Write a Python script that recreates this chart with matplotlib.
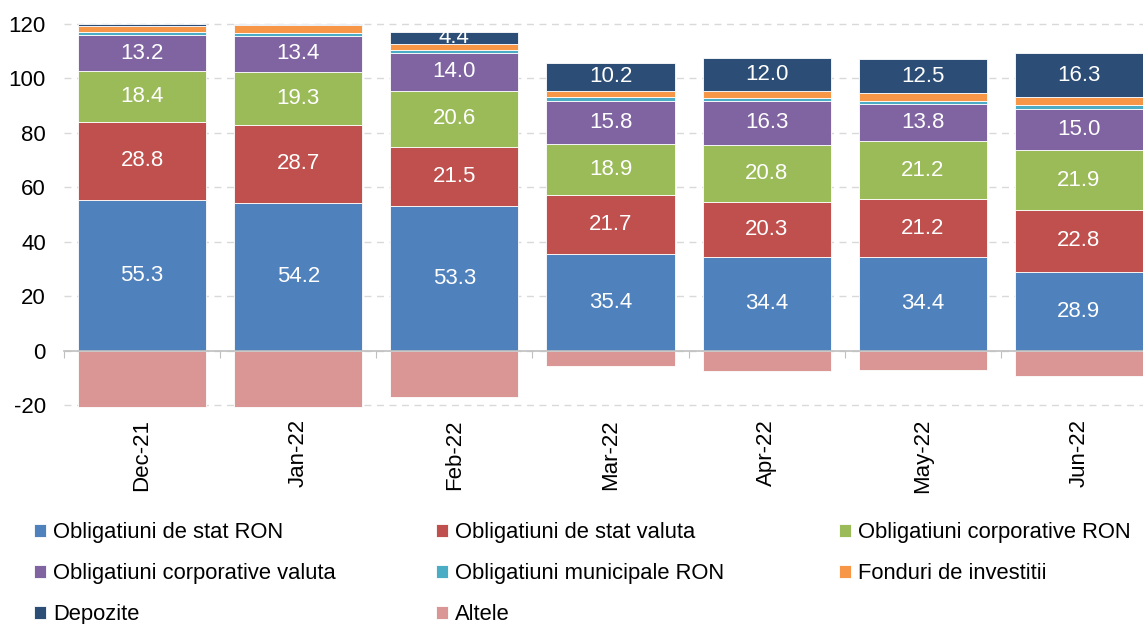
import matplotlib.pyplot as plt
import numpy as np

plt.rcParams['font.family'] = ['Liberation Sans', 'DejaVu Sans']
plt.rcParams['axes.unicode_minus'] = False

# data
months = ['Dec-21', 'Jan-22', 'Feb-22', 'Mar-22', 'Apr-22', 'May-22', 'Jun-22']
stat_ron = [55.3, 54.2, 53.3, 35.4, 34.4, 34.4, 28.9]
stat_valuta = [28.8, 28.7, 21.5, 21.7, 20.3, 21.2, 22.8]
corp_ron = [18.4, 19.3, 20.6, 18.9, 20.8, 21.2, 21.9]
corp_valuta = [13.2, 13.4, 14.0, 15.8, 16.3, 13.8, 15.0]
municipale = [1.1, 1.0, 1.0, 1.2, 1.1, 1.2, 1.5]
fonduri = [2.4, 2.9, 2.2, 2.4, 2.4, 2.7, 2.9]
depozite = [0.7, 0.4, 4.4, 10.2, 12.0, 12.5, 16.3]
altele = [-20.5, -20.5, -17.0, -5.5, -7.4, -7.1, -9.1]

series = [
    ('Obligatiuni de stat RON', stat_ron, '#4F81BD', True),
    ('Obligatiuni de stat valuta', stat_valuta, '#C0504D', True),
    ('Obligatiuni corporative RON', corp_ron, '#9BBB59', True),
    ('Obligatiuni corporative valuta', corp_valuta, '#8064A2', True),
    ('Obligatiuni municipale RON', municipale, '#4BACC6', False),
    ('Fonduri de investitii', fonduri, '#F79646', False),
    ('Depozite', depozite, '#2C4D75', True),
]

FS = 16
W, H = 1143, 624
fig = plt.figure(figsize=(W / 100, H / 100), dpi=100)
ymin, ymax = -21, 121
ax = fig.add_axes([64 / W, 1 - 408 / H, 1093 / W, 387 / H])

x = np.arange(len(months))
width = 0.82
bottom = np.zeros(len(months))
handles = []
for name, vals, color, show in series:
    vals = np.array(vals)
    bars = ax.bar(x, vals, width, bottom=bottom, color=color, edgecolor='white',
                  linewidth=0.6, label=name, zorder=2)
    if show:
        # tiny segments are left without a label
        ax.bar_label(bars, labels=[f'{v:.1f}' if v > 2 else '' for v in vals],
                     label_type='center', color='white', fontsize=FS)
    bottom += vals
    handles.append(bars)

alt = ax.bar(x, altele, width, color='#D99694', edgecolor='white', linewidth=0.6,
             label='Altele', zorder=2)
handles.append(alt)

ax.set_ylim(ymin, ymax)
ax.set_xlim(-0.5, len(months) - 0.5)
ax.set_yticks(np.arange(-20, 121, 20))
ax.tick_params(axis='y', length=0, labelsize=FS, pad=13)
ax.grid(axis='y', color='#D9D9D9', linestyle=(0, (5, 4)), linewidth=1)
ax.set_axisbelow(True)
for s in ['left', 'right', 'top']:
    ax.spines[s].set_visible(False)

# zero line with category boundary ticks
ax.spines['bottom'].set_position(('data', 0))
ax.spines['bottom'].set_color('#BFBFBF')
ax.spines['bottom'].set_linewidth(1.2)
ax.spines['bottom'].set_zorder(3)
ax.set_xticks(np.arange(-0.5, len(months), 1))
ax.tick_params(axis='x', length=5, color='#BFBFBF', labelbottom=False)

# category labels below the plot
sec = ax.secondary_xaxis('bottom')
sec.set_xticks(x, months)
sec.tick_params(axis='x', length=0, labelsize=FS, rotation=90, pad=8)
sec.spines['bottom'].set_visible(False)

# legend in three columns, row-major order
cols = [[0, 3, 6], [1, 4, 7], [2, 5]]
xs = [30, 432, 835]
for c, xpos in zip(cols, xs):
    fig.legend([handles[i] for i in c], [handles[i].get_label() for i in c],
               loc='upper left', bbox_to_anchor=(xpos / W, 1 - 518 / H),
               frameon=False, fontsize=15.8, handlelength=0.55, handleheight=0.55,
               handletextpad=0.3, labelspacing=0.9, borderaxespad=0, borderpad=0.2)

fig.savefig('out.png', dpi=100)
